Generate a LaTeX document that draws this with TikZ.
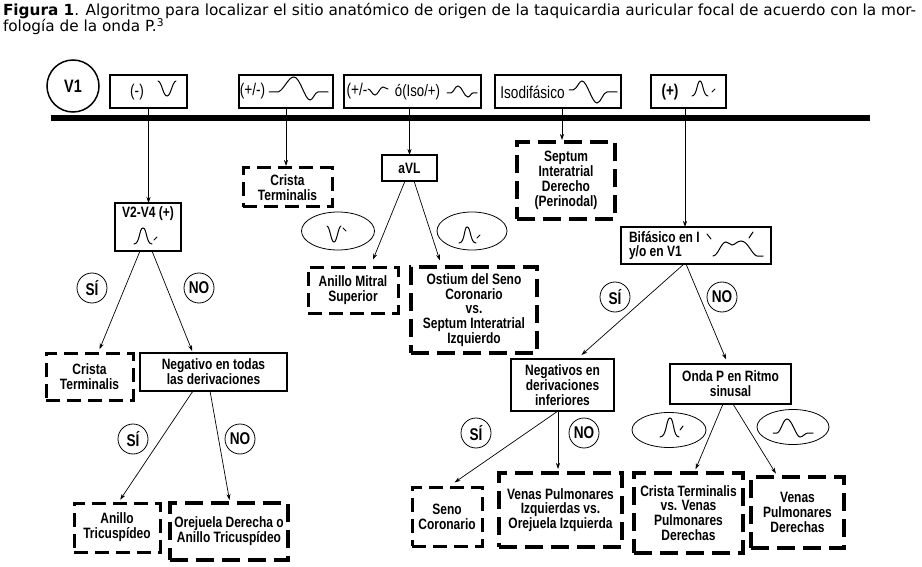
\documentclass[tikz,border=0pt]{standalone}
\usepackage{fontspec}
\setmainfont{Liberation Sans}
\newfontfamily\nf{Liberation Sans}[FakeStretch=0.8]
\newfontfamily\capf{DejaVu Sans}
\usetikzlibrary{shapes.geometric,arrows.meta}
\begin{document}
\begin{tikzpicture}[x=1pt,y=-1pt,
  every node/.style={inner sep=0pt, outer sep=0pt},
  bt/.style={font=\nf\bfseries\fontsize{15}{14.8}\selectfont, align=center},
  rt/.style={font=\nf\fontsize{17}{17}\selectfont},
  sbox/.style={draw, line width=1.2pt},
  dbox/.style={draw, line width=3pt, dash pattern=on 14pt off 7pt},
  dboxT/.style={draw, line width=4pt, dash pattern=on 18pt off 8pt},
  yn/.style={circle, draw, line width=0.8pt, minimum size=30pt, font=\nf\bfseries\fontsize{17}{17}\selectfont},
  ell/.style={ellipse, draw, line width=0.8pt},
  wv/.style={line width=1pt, line cap=round},
  arr/.style={-{Stealth[length=6pt,width=4pt]}, line width=0.7pt},
  ln/.style={line width=0.7pt}
]
\path[use as bounding box, fill=white] (0,0) rectangle (922,567);

% caption
\node[anchor=base west, font=\capf\fontsize{15.3}{16}\selectfont] (cap1) at (3,16)
  {\textbf{Figura 1}. Algoritmo para localizar el sitio anatómico de origen de la taquicardia auricular focal de acuerdo con la mor-};
\node[anchor=base west, font=\capf\fontsize{15.3}{16}\selectfont] (cap2) at (3,32)
  {fología de la onda P.\textsuperscript{3}};

% V1 and bar
\node[circle, draw, line width=1.5pt, minimum size=52pt, font=\nf\bfseries\fontsize{18}{18}\selectfont] (v1) at (73,86) {V1};
\draw[line width=6.5pt] (51,118) coordinate (barL) -- (870,118) coordinate (barR);

% top boxes
\node[sbox, minimum width=77pt, minimum height=33pt] (bneg) at (148.5,91.5) {};
\node[rt] (bnegt) at (137,92) {(-)};
\draw[wv] (158,81) .. controls (162,82) and (163,96) .. (167,96) .. controls (171,96) and (172,82) .. (176,81);

\node[sbox, minimum width=94pt, minimum height=33pt] (bpm) at (286,91.5) {};
\node[rt] (bpmt) at (252.5,91) {(+/-)};
\draw[wv] (269,92) -- (278,92) .. controls (284,90) and (288,77) .. (294,77) .. controls (300,77) and (305,100) .. (310,100) .. controls (313,100) and (315,92) .. (318,92) -- (328,92);

\node[sbox, minimum width=137pt, minimum height=33pt] (b3) at (412.5,91.5) {};
\node[rt] (b3t) at (357,91) {(+/-};
\draw[wv] (368,89) .. controls (371,89) and (372,95) .. (375,95) .. controls (378,95) and (380,87) .. (383,87) .. controls (385,87) and (386,89) .. (388,89);
\node[font=\nf\fontsize{16.5}{17}\selectfont] (b3s) at (417.5,92) {ó(Iso/+)};
\draw[wv] (447,93) -- (451,93) .. controls (454,92) and (455,86) .. (458,86) .. controls (462,86) and (464,97) .. (468,97) .. controls (470,97) and (471,93) .. (473,93) -- (477,93);

\node[sbox, minimum width=126pt, minimum height=33pt] (biso) at (558,91.5) {};
\node[rt] (bisot) at (532.5,92) {Isodifásico};
\draw[wv] (569,90) -- (573,90) .. controls (577,89) and (579,81) .. (582,81) .. controls (587,81) and (592,103) .. (597,103) .. controls (601,103) and (603,92) .. (607,92) -- (617,92);

\node[sbox, minimum width=75pt, minimum height=33pt] (bpos) at (688.5,91.5) {};
\node[font=\nf\bfseries\fontsize{17}{17}\selectfont] (bpost) at (670,92) {(+)};
\draw[wv] (692,96) .. controls (697,96) and (697,81) .. (700,81) .. controls (703,81) and (703,96) .. (708,96);
\draw[wv] (712,92) -- (715,89);

% second level
\node[sbox, minimum width=66pt, minimum height=48pt] (v24) at (148,227) {};
\node[bt] (v24t) at (148,214) {V2-V4 (+)};
\draw[wv] (134,244) .. controls (140,244) and (139,228) .. (143,228) .. controls (147,228) and (146,244) .. (152,244);
\draw[wv] (154,240) -- (157,237);

\node[dbox, bt, minimum width=89pt, minimum height=39pt] (ct1) at (287.5,187.5) {Crista\\Terminalis};
\node[sbox, bt, minimum width=55pt, minimum height=26pt] (avl) at (409.5,168) {aVL};
\node[dboxT, bt, minimum width=98pt, minimum height=77pt] (sep) at (566,180.5) {Septum\\Interatrial\\Derecho\\(Perinodal)};

\node[ell, minimum width=73pt, minimum height=38pt] (e1) at (338,231) {};
\draw[wv] (327,226) .. controls (330,227) and (331,242) .. (334,242) .. controls (337,242) and (338,227) .. (341,226);
\draw[wv] (343,228) -- (346,231);
\node[ell, minimum width=70pt, minimum height=38pt] (e2) at (472,231) {};
\draw[wv] (459,243) .. controls (465,243) and (464,227) .. (467,227) .. controls (471,227) and (470,243) .. (476,243);
\draw[wv] (477,238) -- (480,235);

\node[dbox, bt, minimum width=90pt, minimum height=46pt] (ams) at (353,290) {Anillo Mitral\\Superior};
\node[dboxT, bt, minimum width=126pt, minimum height=86pt] (ost) at (474,310) {Ostium del Seno\\Coronario\\vs.\\Septum Interatrial\\Izquierdo};

\node[sbox, minimum width=150pt, minimum height=37pt] (bif) at (696,245.5) {};
\node[bt, anchor=west, align=left] (bift) at (629,245.5) {Bifásico en I\\y/o en V1};
\draw[wv] (713,256) .. controls (718,256) and (721,242) .. (726,242) .. controls (729,242) and (730,245) .. (732,245) .. controls (735,245) and (737,241) .. (741,241) .. controls (748,241) and (752,255) .. (757,256) -- (763,256);
\draw[wv] (707,234) -- (711,239);
\draw[wv] (749,238) -- (753,232);

% yes/no circles
\node[yn] (si1) at (92,288) {SÍ};
\node[yn] (no1) at (199,288) {NO};
\node[yn] (si3) at (615,297) {SÍ};
\node[yn] (no3) at (722,297) {NO};
\node[yn] (si2) at (133,439) {SÍ};
\node[yn] (no2) at (240,439) {NO};
\node[yn] (si4) at (476,433) {SÍ};
\node[yn] (no4) at (584,433) {NO};

% third level left
\node[dbox, bt, minimum width=87pt, minimum height=47pt] (ct2) at (89.5,376.5) {Crista\\Terminalis};
\node[sbox, bt, minimum width=147pt, minimum height=38pt] (neg) at (213.5,372) {Negativo en todas\\las derivaciones};
\node[dbox, bt, minimum width=86pt, minimum height=49pt] (at) at (117,527.5) {Anillo\\Tricuspídeo};
\node[dboxT, bt, minimum width=118pt, minimum height=57pt] (ore) at (229,531.5) {Orejuela Derecha o\\Anillo Tricuspídeo};

% third level right
\node[sbox, bt, minimum width=103pt, minimum height=52pt] (negs) at (562.5,385) {Negativos en\\derivaciones\\inferiores};
\node[sbox, bt, minimum width=121pt, minimum height=40pt] (onda) at (730.5,384) {Onda P en Ritmo\\sinusal};
\node[ell, minimum width=74pt, minimum height=35pt] (e3) at (669,430) {};
\draw[wv] (660,437) .. controls (667,437) and (666,418) .. (670,418) .. controls (674,418) and (673,437) .. (679,437);
\draw[wv] (680,430) -- (683,426);
\node[ell, minimum width=72pt, minimum height=35pt] (e4) at (793,427) {};
\draw[wv] (773,433) -- (777,433) .. controls (781,432) and (783,419) .. (787,419) .. controls (792,419) and (796,437) .. (800,437) .. controls (803,437) and (805,433) .. (808,433) -- (813,433);

\node[dbox, bt, minimum width=70pt, minimum height=59pt] (seno) at (447,516.5) {Seno\\Coronario};
\node[dboxT, bt, minimum width=123pt, minimum height=74pt] (vpi) at (560.5,510) {Venas Pulmonares\\Izquierdas vs.\\Orejuela Izquierda};
\node[dboxT, bt, minimum width=109pt, minimum height=80pt] (ctv) at (688.5,513) {Crista Terminalis\\vs. Venas\\Pulmonares\\Derechas};
\node[dboxT, bt, minimum width=93pt, minimum height=71pt] (vpd) at (797.5,512.5) {Venas\\Pulmonares\\Derechas};

% connectors
\draw[arr] (bneg.south) -- (bneg.south |- v24.north);
\draw[arr, shorten >=2pt] (bpm.south) -- (bpm.south |- ct1.north);
\draw[arr] (avl.north |- b3.south) -- (avl.north);
\draw[arr, shorten >=2pt] ([xshift=4pt]biso.south) -- ([xshift=-4pt]sep.north);
\draw[arr] ([xshift=-3.5pt]bpos.south) -- ([xshift=-11pt]bif.north);

\draw[arr, shorten >=4pt] ([xshift=-8pt]v24.south) -- ([xshift=8.5pt]ct2.north);
\draw[arr, shorten >=2pt] ([xshift=4pt]v24.south) -- ([xshift=-20.5pt]neg.north);
\draw[arr, shorten >=8pt] ([xshift=-4.5pt]avl.south) -- ([xshift=17pt]ams.north);
\draw[arr, shorten >=7pt] ([xshift=4.5pt]avl.south) -- ([xshift=-32pt]ost.north);
\draw[arr, shorten >=6pt] ([xshift=-12pt]bif.south) -- ([xshift=14.5pt]negs.north);
\draw[arr, shorten >=5pt] ([xshift=-10pt]bif.south) -- ([xshift=-2.5pt]onda.north);

\draw[arr, shorten >=4pt] ([xshift=-20.5pt]neg.south) -- ([xshift=1pt]at.north);
\draw[arr, shorten >=3pt] ([xshift=-3.5pt]neg.south) -- ([xshift=1pt]ore.north);
\draw[arr, shorten >=8pt] ([xshift=-4.5pt]negs.south) -- ([xshift=1pt]seno.north);
\draw[arr, shorten >=4pt] ([xshift=-4.5pt]negs.south) -- ([xshift=-2.5pt]vpi.north);
\draw[arr, shorten >=4pt] ([xshift=-7.5pt]onda.south) -- ([xshift=5.5pt]ctv.north);
\draw[arr, shorten >=4pt] ([xshift=2.5pt]onda.south) -- ([xshift=-19.5pt]vpd.north);
\end{tikzpicture}
\end{document}
